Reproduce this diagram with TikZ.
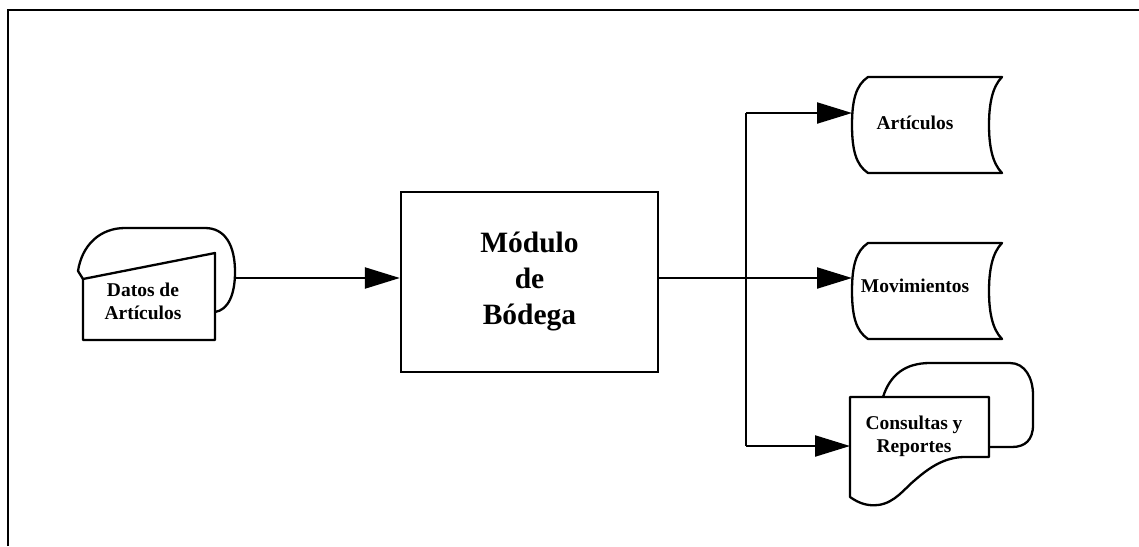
\documentclass[tikz,border=0pt]{standalone}
\usepackage{fontspec}
\setmainfont{Liberation Serif}
\usetikzlibrary{arrows.meta}

\begin{document}
\begin{tikzpicture}[x=1pt,y=-1pt,
		outline/.style={draw,line width=2.3pt,line join=round},
		wire/.style={draw,line width=2.2pt},
		flow/.style={wire,-{Triangle[length=35pt,width=21pt]}},
		smalltxt/.style={font=\fontsize{19.5}{23}\selectfont\bfseries,align=center},
		bigtxt/.style={font=\fontsize{29.5}{36}\selectfont\bfseries,align=center}]
		\useasboundingbox (0,0) rectangle (1139,546);
		\draw[line width=2.4pt] (8,546) -- (8,10) -- (1139,10);
		\node [bigtxt,draw,line width=2.3pt,minimum width=257pt,minimum height=180pt] (modulo) at (529.5,282) {Módulo\\de\\Bódega};
		\node [smalltxt] (datos) at (143,301) {Datos de\\Artículos};
		\node [smalltxt] (art) at (915,123) {Artículos};
		\node [smalltxt] (mov) at (915,286) {Movimientos};
		\node [smalltxt] (cons) at (914,436) {Consultas y\\Reportes};
		\draw[outline] (83,279) -- (215,253) -- (215,340) -- (83,340) -- cycle;
		\draw[outline] (83,279) -- (78,271) .. controls (82,245) and (100,228) .. (125,228) -- (205,228) .. controls (225,228) and (235,245) .. (235,272) .. controls (235,295) and (228,310) .. (215,312);
		\draw[outline] (868,77) -- (1002,77) .. controls (992,87) and (989,105) .. (989,125) .. controls (989,145) and (992,163) .. (1002,173) -- (868,173) .. controls (856,165) and (852,150) .. (852,125) .. controls (852,100) and (856,85) .. (868,77) -- cycle;
		\draw[outline,shift={(0,166)}] (868,77) -- (1002,77) .. controls (992,87) and (989,105) .. (989,125) .. controls (989,145) and (992,163) .. (1002,173) -- (868,173) .. controls (856,165) and (852,150) .. (852,125) .. controls (852,100) and (856,85) .. (868,77) -- cycle;
		\draw[outline] (850,397) -- (989,397) -- (989,457) -- (965,457) .. controls (945,457) and (930,467) .. (915,480) .. controls (905,488) and (895,503) .. (878,505) .. controls (868,506) and (860,504) .. (850,497) -- cycle;
		\draw[outline] (883,397) .. controls (890,375) and (905,363) .. (930,363) -- (1010,363) .. controls (1025,363) and (1033,378) .. (1033,395) -- (1033,425) .. controls (1033,440) and (1025,447) .. (1012,447) -- (989,447);
		\coordinate (datosout) at (235,278);
		\coordinate (split) at (746,278);
		\coordinate (artin) at (852,113);
		\coordinate (movin) at (852,278);
		\coordinate (consin) at (850,446);
		\draw[flow] (datosout) -- (datosout -| modulo.west);
		\draw[wire] (modulo.east |- split) -- (split);
		\draw[wire] (split |- artin) -- (split |- consin);
		\draw[flow] (split |- artin) -- (artin);
		\draw[flow] (split) -- (movin);
		\draw[flow] (split |- consin) -- (consin);
\end{tikzpicture}
\end{document}
